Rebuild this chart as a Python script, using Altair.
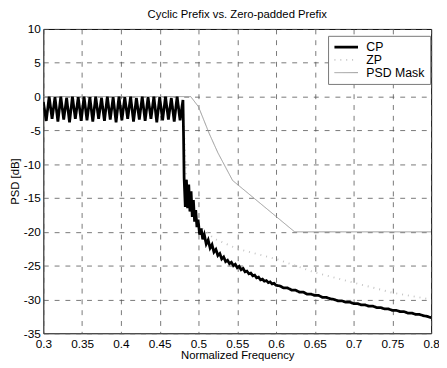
import altair as alt
import pandas as pd

# CP in-band ripple (0.3 .. 0.48)
cp_x_in = [0.30000, 0.30375, 0.30750, 0.31125, 0.31500, 0.31875, 0.32250, 0.32625,
           0.33000, 0.33375, 0.33750, 0.34125, 0.34500, 0.34875, 0.35250, 0.35625,
           0.36000, 0.36375, 0.36750, 0.37125, 0.37500, 0.37875, 0.38250, 0.38625,
           0.39000, 0.39375, 0.39750, 0.40125, 0.40500, 0.40875, 0.41250, 0.41625,
           0.42000, 0.42375, 0.42750, 0.43125, 0.43500, 0.43875, 0.44250, 0.44625,
           0.45000, 0.45375, 0.45750, 0.46125, 0.46500, 0.46875, 0.47250, 0.47625,
           0.48000]
cp_y_in = [-0.8, -3.6, 0.0, -3.3, -0.1, -3.7, 0.0, -3.4,
           -0.2, -3.8, 0.0, -3.3, -0.1, -3.6, 0.0, -3.5,
           -0.1, -3.7, 0.0, -3.3, -0.2, -3.6, 0.0, -3.4,
           -0.1, -3.8, 0.0, -3.5, -0.1, -3.3, 0.0, -3.7,
           -0.2, -3.4, 0.0, -3.6, -0.1, -3.3, 0.0, -3.8,
           -0.1, -3.5, 0.0, -3.4, -0.2, -3.7, 0.0, -3.5,
           -0.5]

# CP out-of-band decay
cp_x_out = [0.4808, 0.4815, 0.4830, 0.4845, 0.4860, 0.4875, 0.4890, 0.4905, 0.4920,
            0.4935, 0.4950, 0.4965, 0.4980, 0.4995, 0.5015, 0.5035, 0.5055, 0.5075,
            0.5100, 0.5125, 0.5150, 0.5175, 0.5200, 0.5225, 0.5250, 0.5275, 0.5300,
            0.5325, 0.5350, 0.5375, 0.5400, 0.5425, 0.5450, 0.5475, 0.5500, 0.5525,
            0.5550, 0.5575, 0.5600, 0.5625, 0.5650, 0.5675, 0.5700, 0.5725, 0.5750,
            0.5775, 0.5800, 0.5825, 0.5850, 0.5875, 0.5900, 0.5925, 0.5950, 0.5975,
            0.600, 0.605, 0.610, 0.615, 0.620, 0.625, 0.630, 0.635, 0.640, 0.645,
            0.650, 0.655, 0.660, 0.665, 0.670, 0.675, 0.680, 0.685, 0.690, 0.695,
            0.700, 0.705, 0.710, 0.715, 0.720, 0.725, 0.730, 0.735, 0.740, 0.745,
            0.750, 0.755, 0.760, 0.765, 0.770, 0.775, 0.780, 0.785, 0.790, 0.795,
            0.800]
cp_y_out = [-6.0, -12.0, -16.3, -12.3, -16.5, -13.0, -17.0, -14.0, -17.8,
            -15.3, -18.5, -16.8, -19.3, -18.2, -20.4, -19.5, -21.1, -20.4,
            -21.8, -21.2, -22.4, -21.9, -23.0, -22.6, -23.5, -23.2, -24.0,
            -23.7, -24.4, -24.2, -24.7, -24.5, -25.0, -24.8, -25.3, -25.1,
            -25.6, -25.4, -25.9, -25.8, -26.2, -26.1, -26.5, -26.4, -26.8,
            -26.7, -27.1, -27.0, -27.3, -27.2, -27.5, -27.4, -27.7, -27.6,
            -27.9, -28.0, -28.3, -28.3, -28.6, -28.6, -28.9, -28.9, -29.2, -29.2,
            -29.4, -29.4, -29.7, -29.7, -29.9, -30.0, -30.2, -30.2, -30.4, -30.4,
            -30.6, -30.6, -30.8, -30.8, -31.0, -31.0, -31.2, -31.2, -31.4, -31.4,
            -31.6, -31.6, -31.8, -31.8, -32.0, -32.0, -32.2, -32.2, -32.4, -32.5,
            -32.7]

# ZP (faint)
zp_x = [0.300, 0.480, 0.485, 0.500, 0.520, 0.550, 0.600, 0.650, 0.700, 0.750, 0.800]
zp_y = [-1.5, -1.5, -14.0, -19.0, -21.0, -22.5, -24.0, -26.0, -27.5, -29.0, -30.0]

# PSD mask
mask_x = [0.300, 0.490, 0.500, 0.514, 0.525, 0.544, 0.624, 0.800]
mask_y = [0.0, 0.0, -1.5, -5.5, -8.3, -12.4, -20.0, -20.0]

series = ["CP", "ZP", "PSD Mask"]

rows = []
for x, y in zip(mask_x, mask_y):
    rows.append({"f": x, "psd": y, "s": "PSD Mask", "o": 0})
for x, y in zip(zp_x, zp_y):
    rows.append({"f": x, "psd": y, "s": "ZP", "o": 1})
for x, y in zip(cp_x_in + cp_x_out, cp_y_in + cp_y_out):
    rows.append({"f": x, "psd": y, "s": "CP", "o": 2})
df = pd.DataFrame(rows)

x_ticks = [0.3, 0.35, 0.4, 0.45, 0.5, 0.55, 0.6, 0.65, 0.7, 0.75, 0.8]
y_ticks = [-35, -30, -25, -20, -15, -10, -5, 0, 5, 10]

FONT = "Liberation Sans"

legend = alt.Legend(
    title=None, orient="none", legendX=290, legendY=7,
    symbolType="stroke", symbolSize=576, labelFontSize=12.5, labelFont=FONT,
    labelColor="black", strokeColor="#777", padding=5, rowPadding=0, clipHeight=13,
    fillColor="white", labelOffset=7, symbolOpacity=1,
)

chart = alt.Chart(df).mark_line(clip=True).encode(
    x=alt.X("f:Q", scale=alt.Scale(domain=[0.3, 0.8], nice=False),
            axis=alt.Axis(values=x_ticks, title="Normalized Frequency",
                          labelExpr="'' + datum.value")),
    y=alt.Y("psd:Q", scale=alt.Scale(domain=[-35, 10], nice=False),
            axis=alt.Axis(values=y_ticks, title="PSD [dB]",
                          labelExpr="'' + datum.value")),
    color=alt.Color("s:N", scale=alt.Scale(domain=series, range=["black", "#c4c4c4", "#999999"]),
                    legend=legend),
    strokeDash=alt.StrokeDash("s:N", scale=alt.Scale(domain=series, range=[[1, 0], [1, 5], [1, 0]]),
                              legend=legend),
    strokeWidth=alt.StrokeWidth("s:N", scale=alt.Scale(domain=series, range=[2.8, 1, 0.9]),
                                legend=legend),
    detail="s:N",
    order="o:Q",
).properties(
    width=395, height=310,
    title=alt.Title("Cyclic Prefix vs. Zero-padded Prefix", fontSize=11.5, font=FONT,
                    fontWeight="normal", color="black", offset=3, frame="group"),
    padding={"left": 36, "top": 18, "right": 8, "bottom": 32},
    autosize=alt.AutoSizeParams(type="none"),
).configure_view(
    stroke="black", strokeWidth=1
).configure_axis(
    labelFont=FONT, labelFontSize=12, labelColor="black",
    titleFont=FONT, titleFontSize=11.5, titleColor="black", titleFontWeight="normal",
    domain=False, ticks=False, labelPadding=3, labelFlush=False,
    grid=True, gridColor="#555", gridDash=[5, 6], gridWidth=0.8, gridOpacity=1,
).configure_axisY(titlePadding=3).configure_axisX(titlePadding=1, labelPadding=5)

chart.save("out.html", embed_options={"renderer": "svg", "actions": False})
